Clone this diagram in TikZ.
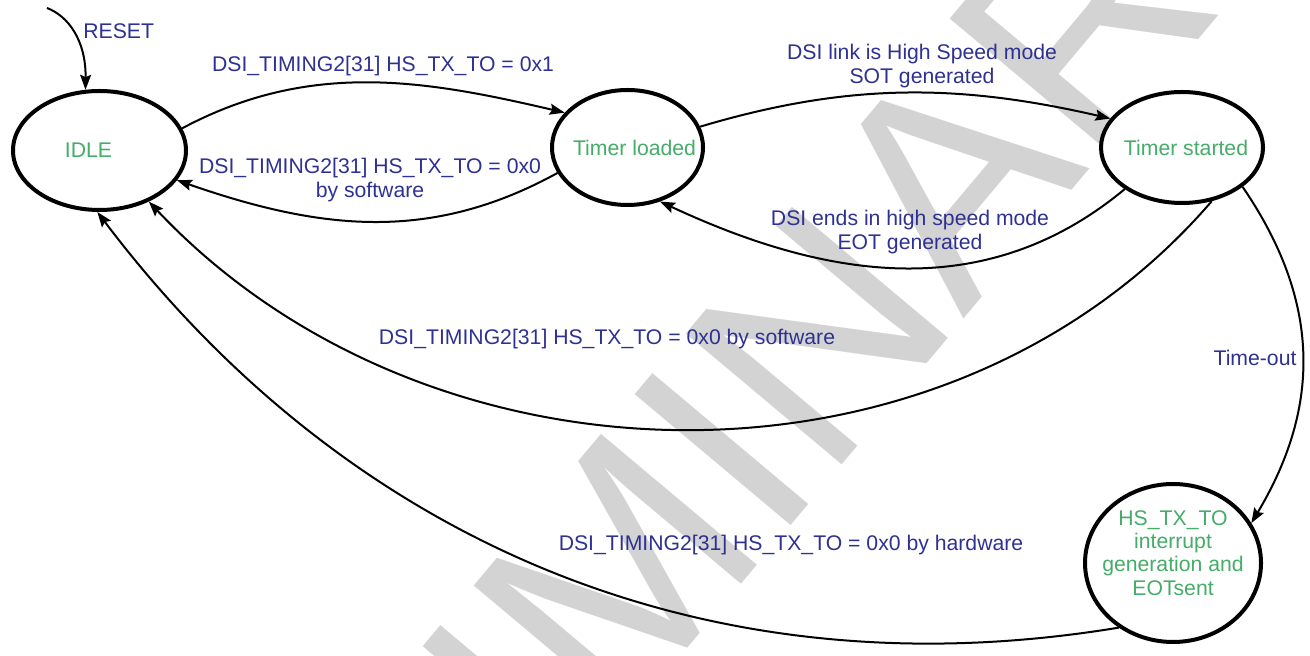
\documentclass[tikz,border=0pt]{standalone}
\usepackage{fontspec}
\setmainfont{Liberation Sans}
\usetikzlibrary{shapes.geometric,arrows.meta}
\definecolor{condblue}{RGB}{46,49,146}
\definecolor{stategreen}{RGB}{70,172,105}
\definecolor{wmgray}{RGB}{211,211,211}
\newcommand{\lblfont}{\fontsize{10.6}{11.6}\selectfont}
\tikzset{
  state/.style={draw, ellipse, line width=2pt, fill=white, inner sep=0pt},
  statetext/.style={text=stategreen, font=\lblfont, align=center, inner sep=0pt},
  trans/.style={line width=1pt, -{Stealth[length=7.5pt,width=5.5pt,inset=1.2pt]}},
  cond/.style={text=condblue, font=\lblfont, align=center, inner sep=0pt},
}
\begin{document}
\begin{tikzpicture}[x=0.5pt,y=-0.5pt]
    \useasboundingbox (0,0) rectangle (1310,656);
    % watermark
    \begin{scope}
        \clip (0,0) rectangle (1310,656);
        \node[text=wmgray, font=\fontsize{148}{148}\selectfont, rotate=50, anchor=base] (wm) at (708,624) {PRELIMINARY};
    \end{scope}
    % states
    \node[state, minimum width=86.5pt, minimum height=59.5pt, label={[statetext, xshift=-5.5pt]center:IDLE}] (idle) at (99.5,150.5) {};
    \node[state, minimum width=75.5pt, minimum height=57.5pt, label={[statetext, xshift=3.5pt]center:Timer loaded}] (loaded) at (627.5,147.5) {};
    \node[state, minimum width=81pt, minimum height=55.5pt, label={[statetext, xshift=2pt]center:Timer started}] (started) at (1182,147.5) {};
    \node[state, minimum width=88pt, minimum height=79pt, label={[statetext, yshift=5pt]center:HS\_TX\_TO\\interrupt\\generation and\\EOTsent}] (hstx) at (1173,563) {};
    \coordinate (rst) at (47,8);
    % transitions
    \draw[trans] (rst) .. controls (68,16) and (86,40) .. (idle.103);
    \draw[trans] (idle.15) .. controls (310,60) and (425,80) .. (loaded.151);
    \draw[trans] (loaded.200) .. controls (430,243) and (320,230) .. (idle.-21);
    \draw[trans] (loaded.16) .. controls (850,82) and (960,84) .. (started.158);
    \draw[trans] (started.216) .. controls (984,306) and (824,278) .. (loaded.-59);
    \draw[trans] (started.-61) .. controls (946,510) and (430,500) .. (idle.-46);
    \draw[trans] (started.-33) .. controls (1320,300) and (1322,405) .. (hstx.27);
    \draw[trans] (hstx.230) .. controls (680,700) and (330,520) .. (idle.-92);
    % labels
    \node[cond, anchor=west] (lreset) at (83,31) {RESET};
    \node[cond] (lset) at (383,66) {DSI\_TIMING2[31] HS\_TX\_TO = 0x1};
    \node[cond] (lclr) at (370,180) {DSI\_TIMING2[31] HS\_TX\_TO = 0x0\\by software};
    \node[cond] (lsot) at (922,66) {DSI link is High Speed mode\\SOT generated};
    \node[cond] (leot) at (910,232) {DSI ends in high speed mode\\EOT generated};
    \node[cond] (lsw) at (607,339) {DSI\_TIMING2[31] HS\_TX\_TO = 0x0 by software};
    \node[cond] (lhw) at (791,545) {DSI\_TIMING2[31] HS\_TX\_TO = 0x0 by hardware};
    \node[cond] (lto) at (1255,358) {Time-out};
\end{tikzpicture}
\end{document}
